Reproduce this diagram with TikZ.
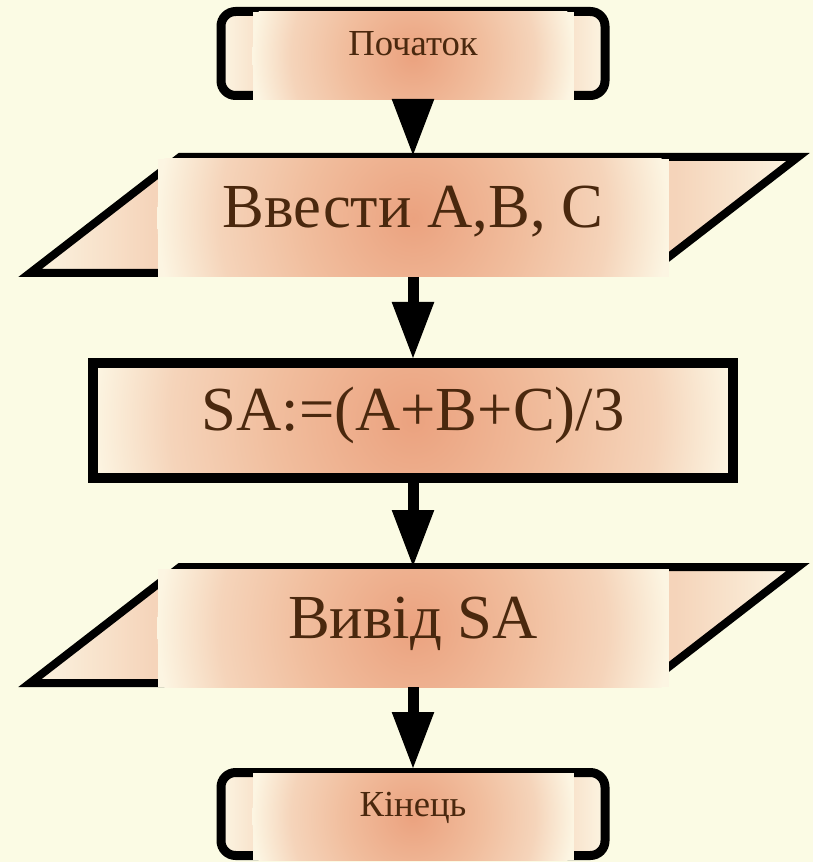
\documentclass[tikz,border=0pt]{standalone}
\usepackage{fontspec}
\setmainfont{Liberation Serif}
\usetikzlibrary{arrows.meta,calc}
\definecolor{bg}{RGB}{251,251,228}
\definecolor{salmon}{RGB}{235,162,127}
\definecolor{midglow}{RGB}{241,190,158}
\definecolor{cream}{RGB}{252,245,226}
\definecolor{peach}{RGB}{245,212,186}
\definecolor{ink}{RGB}{74,40,14}
\pgfdeclareradialshading{boxglow}{\pgfpoint{0bp}{0bp}}{color(0bp)=(salmon); color(11bp)=(midglow); color(19bp)=(peach); color(25bp)=(cream); color(50bp)=(cream)}
\pgfdeclarehorizontalshading{outerglow}{100bp}{color(0bp)=(cream); color(25bp)=(cream); color(33bp)=(peach); color(67bp)=(peach); color(75bp)=(cream); color(100bp)=(cream)}
\tikzset{
  glow/.style={fill=cream, inner sep=0pt, outer sep=0pt, text=ink,
    path picture={\shade[shading=boxglow] let \p1=(path picture bounding box.east), \p2=(path picture bounding box.center) in (\p2) circle[radius={\x1-\x2}];}},
  outerfill/.style={shade, shading=outerglow},
  term/.style={draw=black, line width=6.75pt, rounded corners=11pt, outerfill,
    minimum width=288pt, inner sep=0pt},
  termbox/.style={glow, minimum width=240.75pt, font=\fontsize{27.5}{30}\selectfont,
    text height=12pt, text depth=12pt},
  parabox/.style={glow, minimum width=383.25pt, minimum height=88.5pt,
    font=\fontsize{47}{50}\selectfont, text height=25pt, text depth=10pt},
  paraline/.style={draw=black, line width=6pt, line join=miter, outerfill},
  rectbox/.style={glow, draw=black, line width=7.5pt, outer sep=3.75pt,
    minimum width=480pt, minimum height=86.25pt,
    font=\fontsize{47}{50}\selectfont, text height=25pt, text depth=10pt},
  arr/.style={draw=black, line width=8.25pt, -{Triangle[length=42pt, width=32pt, line width=0pt]}}
}
\begin{document}
\begin{tikzpicture}[x=0.75pt, y=-0.75pt]
  \useasboundingbox (0,0) rectangle (813,862);
  \fill[bg] (0,0) rectangle (813,862);

  % start terminal
  \node[term, minimum height=63pt] (s) at (413,53.5) {};
  \node[termbox, minimum height=66pt] (sb) at (413,56) {Початок};

  % input parallelogram
  \draw[paraline] (180,157) -- (798,157) -- (648,273) -- (30,273) -- cycle;
  \node[parabox] (ib1) at (413,218) {Ввести А,В, С};

  % process
  \node[rectbox] (r) at (413,420.5) {SA:=(A+B+C)/3};

  % output parallelogram
  \draw[paraline] (180,567) -- (798,567) -- (648,683) -- (30,683) -- cycle;
  \node[parabox] (ib2) at (413,628) {Вивід SA};

  % end terminal
  \node[term, minimum height=62.25pt] (e) at (413,814) {};
  \node[termbox, minimum height=65.25pt] (eb) at (413,816.5) {Кінець};

  % connectors
  \draw[arr, shorten >=3pt] (s.south) -- (ib1.north);
  \draw[arr] (ib1.south) -- (r.north);
  \draw[arr, shorten >=2.25pt] (r.south) -- (ib2.north);
  \draw[arr] (ib2.south) -- (e.north);
\end{tikzpicture}
\end{document}
